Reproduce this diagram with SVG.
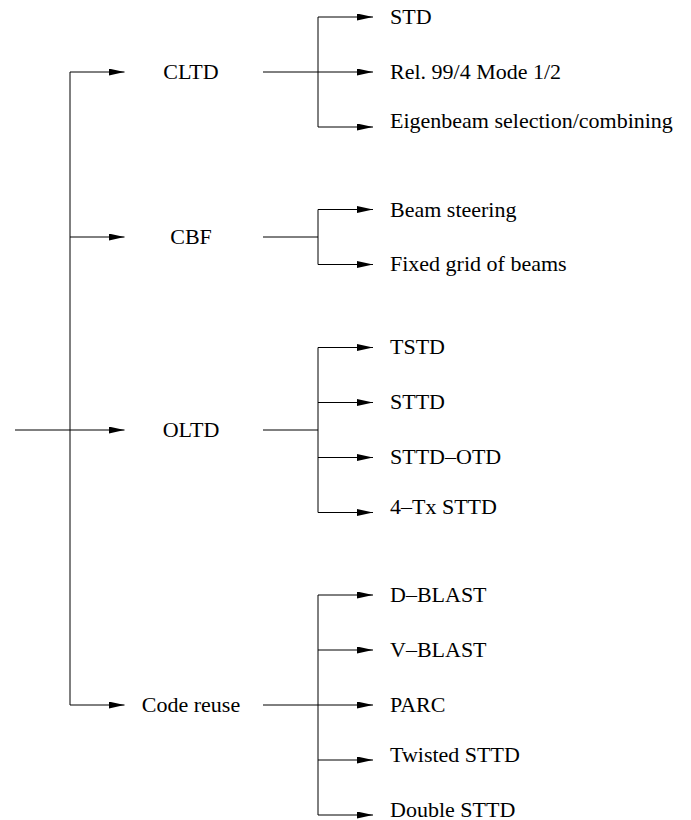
<svg xmlns="http://www.w3.org/2000/svg" width="691" height="820" viewBox="0 0 691 820">
  <style>
    text { font-family: "Liberation Serif", "Times New Roman", Times, serif; font-size: 22px; fill: #000; }
    .mid { text-anchor: middle; }
    .ln { fill: none; stroke: #000; stroke-width: 1; }
    .ar { fill: none; stroke: #000; stroke-width: 1; marker-end: url(#ah); }
  </style>
  <defs>
    <marker id="ah" markerUnits="userSpaceOnUse" markerWidth="17" markerHeight="8" refX="16" refY="3.5" orient="auto">
      <path d="M0,0 L16,3.5 L0,7 Z" fill="#000"/>
    </marker>
  </defs>
  <rect width="691" height="820" fill="#fff"/>
  <g id="connectors">
    <!-- input -->
    <line class="ar" x1="15" y1="430" x2="124.5" y2="430"/>
    <!-- main trunk -->
    <line class="ln" x1="70" y1="72" x2="70" y2="705"/>
    <line class="ar" x1="70" y1="72" x2="124.5" y2="72"/>
    <line class="ar" x1="70" y1="237" x2="124.5" y2="237"/>
    <line class="ar" x1="70" y1="705" x2="124.5" y2="705"/>
    <!-- CLTD -->
    <line class="ln" x1="263" y1="72" x2="318" y2="72"/>
    <line class="ln" x1="318" y1="17" x2="318" y2="127"/>
    <line class="ar" x1="318" y1="17" x2="373" y2="17"/>
    <line class="ar" x1="318" y1="72" x2="373" y2="72"/>
    <line class="ar" x1="318" y1="127" x2="373" y2="127"/>
    <!-- CBF -->
    <line class="ln" x1="263" y1="237" x2="318" y2="237"/>
    <line class="ln" x1="318" y1="209.5" x2="318" y2="264.5"/>
    <line class="ar" x1="318" y1="209.5" x2="373" y2="209.5"/>
    <line class="ar" x1="318" y1="264.5" x2="373" y2="264.5"/>
    <!-- OLTD -->
    <line class="ln" x1="263" y1="430" x2="318" y2="430"/>
    <line class="ln" x1="318" y1="347.5" x2="318" y2="512.5"/>
    <line class="ar" x1="318" y1="347.5" x2="373" y2="347.5"/>
    <line class="ar" x1="318" y1="402.5" x2="373" y2="402.5"/>
    <line class="ar" x1="318" y1="457.5" x2="373" y2="457.5"/>
    <line class="ar" x1="318" y1="512.5" x2="373" y2="512.5"/>
    <!-- Code reuse -->
    <line class="ln" x1="263" y1="705" x2="318" y2="705"/>
    <line class="ln" x1="318" y1="595" x2="318" y2="815"/>
    <line class="ar" x1="318" y1="595" x2="373" y2="595"/>
    <line class="ar" x1="318" y1="650" x2="373" y2="650"/>
    <line class="ar" x1="318" y1="705" x2="373" y2="705"/>
    <line class="ar" x1="318" y1="760" x2="373" y2="760"/>
    <line class="ar" x1="318" y1="815" x2="373" y2="815"/>
  </g>
  <g id="n-cltd"><text class="mid" x="191" y="79">CLTD</text></g>
  <g id="n-cbf"><text class="mid" x="191" y="244">CBF</text></g>
  <g id="n-oltd"><text class="mid" x="191" y="437">OLTD</text></g>
  <g id="n-codereuse"><text class="mid" x="191" y="712">Code reuse</text></g>
  <g id="n-std"><text x="390" y="24">STD</text></g>
  <g id="n-rel99"><text x="390" y="79">Rel. 99/4 Mode 1/2</text></g>
  <g id="n-eigen"><text x="390" y="128">Eigenbeam selection/combining</text></g>
  <g id="n-beamsteer"><text x="390" y="216.5">Beam steering</text></g>
  <g id="n-fixedgrid"><text x="390" y="271">Fixed grid of beams</text></g>
  <g id="n-tstd"><text x="390" y="353.5">TSTD</text></g>
  <g id="n-sttd"><text x="390" y="408.5">STTD</text></g>
  <g id="n-sttdotd"><text x="390" y="463.5">STTD&#8211;OTD</text></g>
  <g id="n-4tx"><text x="390" y="513.5">4&#8211;Tx STTD</text></g>
  <g id="n-dblast"><text x="390" y="602">D&#8211;BLAST</text></g>
  <g id="n-vblast"><text x="390" y="657">V&#8211;BLAST</text></g>
  <g id="n-parc"><text x="390" y="712">PARC</text></g>
  <g id="n-twisted"><text x="390" y="762">Twisted STTD</text></g>
  <g id="n-double"><text x="390" y="817">Double STTD</text></g>
</svg>
